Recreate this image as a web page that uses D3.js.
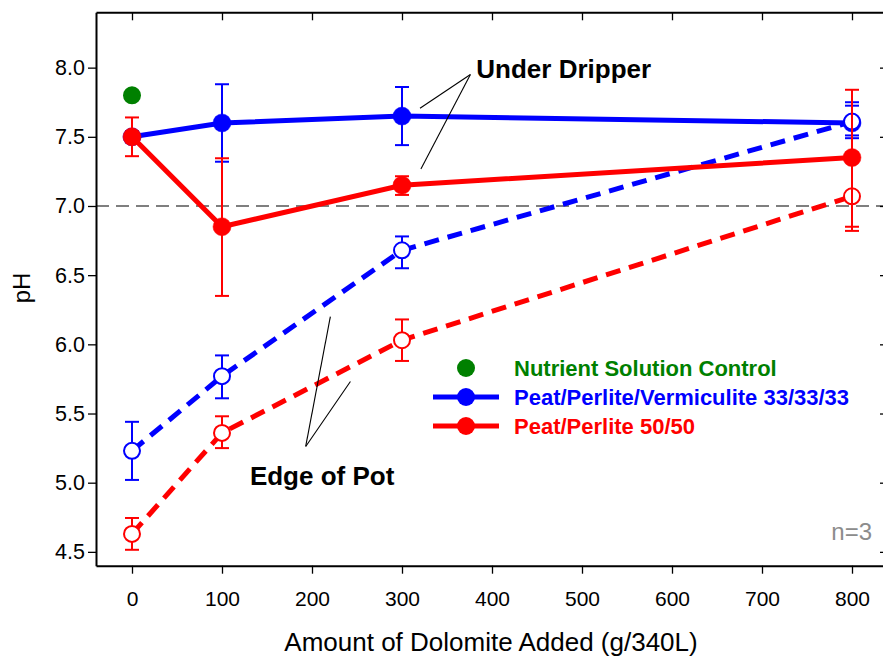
<!DOCTYPE html>
<html>
<head>
<meta charset="utf-8">
<script src="https://cdn.jsdelivr.net/npm/d3@7"></script>
<style>
  html, body { margin: 0; padding: 0; background: #fff; }
  svg { display: block; font-family: "Liberation Sans", Arial, Helvetica, sans-serif; }
</style>
</head>
<body>
<svg id="chart" width="883" height="657"></svg>
<script>
// ---- data ----
const doses = [0, 100, 300, 800];
const xTicks = [0, 100, 200, 300, 400, 500, 600, 700, 800];
const yTicks = [4.5, 5.0, 5.5, 6.0, 6.5, 7.0, 7.5, 8.0];

const ppvDripper   = [7.50, 7.60, 7.65, 7.60];
const ppvDripperLo = [7.46, 7.32, 7.44, 7.49];
const ppvDripperHi = [7.54, 7.88, 7.86, 7.725];

const ppvEdge   = [5.23, 5.77, 6.68, 7.61];
const ppvEdgeLo = [5.02, 5.61, 6.55, 7.51];
const ppvEdgeHi = [5.44, 5.92, 6.78, 7.75];

const ppDripper   = [7.50, 6.85, 7.15, 7.35];
const ppDripperLo = [7.36, 6.35, 7.08, 6.85];
const ppDripperHi = [7.64, 7.345, 7.215, 7.84];

const ppEdge   = [4.63, 5.36, 6.03, 7.07];
const ppEdgeLo = [4.515, 5.25, 5.88, 6.82];
const ppEdgeHi = [4.745, 5.48, 6.18, 7.32];

const controlDose = [0];
const controlPH = [7.80];

const referencePH = 7.0;

const legendLabels = ["Nutrient Solution Control", "Peat/Perlite/Vermiculite 33/33/33", "Peat/Perlite 50/50"];
const xTitle = "Amount of Dolomite Added (g/340L)";
const yTitle = "pH";

// ---- layout ----
const BLUE = "#0000ff", RED = "#ff0000", GREEN = "#008000";
const svg = d3.select("#chart");
const pL = 96, pR = 888, pT = 12.3, pB = 565.7;
const x = d3.scaleLinear().domain([-40, 840]).range([pL, pR]);
const y = d3.scaleLinear().domain([4.4, 8.4]).range([pB, pT]);

// reference line
svg.append("line")
  .attr("x1", pL).attr("x2", pR)
  .attr("y1", y(referencePH)).attr("y2", y(referencePH))
  .attr("stroke", "#555").attr("stroke-width", 1.4)
  .attr("stroke-dasharray", "13,7");

// axes
const fmtY = d3.format(".1f");
const gx = svg.append("g").attr("transform", `translate(0,${pB})`)
  .call(d3.axisBottom(x).tickValues(xTicks).tickSizeInner(8).tickSizeOuter(0).tickPadding(17));
const gy = svg.append("g").attr("transform", `translate(${pL},0)`)
  .call(d3.axisLeft(y).tickValues(yTicks).tickFormat(fmtY).tickSizeInner(8).tickSizeOuter(0).tickPadding(3));
const gt = svg.append("g").attr("transform", `translate(0,${pT})`)
  .call(d3.axisBottom(x).tickValues(xTicks).tickSizeInner(8).tickSizeOuter(0).tickFormat(""));
const gr = svg.append("g").attr("transform", `translate(${pR},0)`)
  .call(d3.axisLeft(y).tickValues(yTicks).tickSizeInner(8).tickSizeOuter(0).tickFormat(""));
[gx, gy, gt, gr].forEach(g => {
  g.select(".domain").attr("stroke", "#000").attr("stroke-width", 2);
  g.selectAll(".tick line").attr("stroke", "#000").attr("stroke-width", 1.3);
  g.selectAll("text").attr("fill", "#000").attr("font-family", "Liberation Sans, Arial, sans-serif");
});
gx.selectAll("text").attr("font-size", 21);
gy.selectAll("text").attr("font-size", 21.5);

// axis titles
svg.append("text").attr("x", (pL + pR) / 2 - 1).attr("y", 650.5)
  .attr("text-anchor", "middle").attr("font-size", 26).text(xTitle);
svg.append("text").attr("transform", `translate(29.5,288) rotate(-90)`)
  .attr("text-anchor", "middle").attr("font-size", 24).text(yTitle);

// series drawing
function series(vals, lo, hi, color, dashed, filled) {
  const pts = doses.map((d, i) => ({ d, v: vals[i], lo: lo[i], hi: hi[i] }));
  const line = d3.line().x(p => x(p.d)).y(p => y(p.v));
  svg.append("path").datum(pts).attr("d", line)
    .attr("fill", "none").attr("stroke", color).attr("stroke-width", 5)
    .attr("stroke-dasharray", dashed ? "15,9" : null);
  const g = svg.append("g");
  const eb = g.selectAll("g.eb").data(pts).join("g");
  eb.append("line").attr("x1", p => x(p.d)).attr("x2", p => x(p.d))
    .attr("y1", p => y(p.lo)).attr("y2", p => y(p.hi))
    .attr("stroke", color).attr("stroke-width", 2);
  ["lo", "hi"].forEach(k => {
    eb.append("line").attr("x1", p => x(p.d) - 7).attr("x2", p => x(p.d) + 7)
      .attr("y1", p => y(p[k])).attr("y2", p => y(p[k]))
      .attr("stroke", color).attr("stroke-width", 2);
  });
  g.selectAll("circle").data(pts).join("circle")
    .attr("cx", p => x(p.d)).attr("cy", p => y(p.v))
    .attr("r", filled ? 9 : 8)
    .attr("fill", filled ? color : "#fff")
    .attr("stroke", color).attr("stroke-width", filled ? 0.5 : 2);
}

series(ppvDripper, ppvDripperLo, ppvDripperHi, BLUE, false, true);
series(ppvEdge, ppvEdgeLo, ppvEdgeHi, BLUE, true, false);
series(ppEdge, ppEdgeLo, ppEdgeHi, RED, true, false);
series(ppDripper, ppDripperLo, ppDripperHi, RED, false, true);

svg.selectAll(null).data(controlDose).join("circle")
  .attr("cx", (d) => x(d)).attr("cy", (d, i) => y(controlPH[i]))
  .attr("r", 9).attr("fill", GREEN);

// annotations
const ann = svg.append("g").attr("stroke", "#000").attr("stroke-width", 1.1);
const udApex = [376, 7.95];
[[320, 7.706], [321, 7.268]].forEach(e => {
  ann.append("line").attr("x1", x(udApex[0])).attr("y1", y(udApex[1]))
    .attr("x2", x(e[0])).attr("y2", y(e[1]));
});
const epApex = [193, 5.262];
[[220.4, 6.2], [242.7, 5.731]].forEach(e => {
  ann.append("line").attr("x1", x(epApex[0])).attr("y1", y(epApex[1]))
    .attr("x2", x(e[0])).attr("y2", y(e[1]));
});
svg.append("text").attr("x", x(382.6)).attr("y", y(7.928))
  .attr("font-size", 26).attr("font-weight", "bold").text("Under Dripper");
svg.append("text").attr("x", x(131)).attr("y", y(4.98))
  .attr("font-size", 26).attr("font-weight", "bold").text("Edge of Pot");

// legend
const lg = svg.append("g");
const rows = [368, 397, 426];
const lcolors = [GREEN, BLUE, RED];
lg.append("circle").attr("cx", 466).attr("cy", rows[0]).attr("r", 9).attr("fill", GREEN);
[1, 2].forEach(i => {
  lg.append("line").attr("x1", 433).attr("x2", 499).attr("y1", rows[i]).attr("y2", rows[i])
    .attr("stroke", lcolors[i]).attr("stroke-width", 5);
  lg.append("circle").attr("cx", 466).attr("cy", rows[i]).attr("r", 9).attr("fill", lcolors[i]);
});
legendLabels.forEach((t, i) => {
  lg.append("text").attr("x", 514).attr("y", rows[i] + 8)
    .attr("font-size", 22).attr("font-weight", "bold").attr("fill", lcolors[i]).text(t);
});

// n=3
svg.append("text").attr("x", 872).attr("y", 540).attr("text-anchor", "end")
  .attr("font-size", 24).attr("fill", "#8c8c8c").text("n=3");
</script>
</body>
</html>
